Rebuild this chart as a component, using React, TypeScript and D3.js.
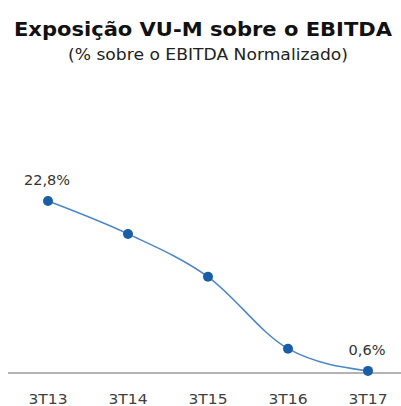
import React, { useEffect, useRef } from "react";
import * as d3 from "d3";

const categories = ["3T13", "3T14", "3T15", "3T16", "3T17"];
const values = [22.8, 18.5, 12.9, 3.5, 0.6];
const labels = ["22,8%", "", "", "", "0,6%"];

const W = 401;
const H = 406;

const App = () => {
  const ref = useRef<SVGSVGElement>(null);

  useEffect(() => {
    document.body.style.margin = "0";
    const svg = d3.select(ref.current);
    svg.selectAll("*").remove();

    const font = "'DejaVu Sans', Verdana, sans-serif";

    const x = d3.scalePoint().domain(categories).range([48, 368]);
    const y = d3.scaleLinear().domain([0, 25]).range([375.5, 184.2]);

    svg
      .append("text")
      .attr("x", 14)
      .attr("y", 36)
      .attr("font-family", font)
      .attr("font-weight", "bold")
      .attr("font-size", 19)
      .attr("textLength", 378)
      .attr("lengthAdjust", "spacingAndGlyphs")
      .attr("fill", "#111")
      .text("Exposição VU-M sobre o EBITDA");

    svg
      .append("text")
      .attr("x", 68)
      .attr("y", 60)
      .attr("font-family", font)
      .attr("font-size", 15)
      .attr("textLength", 280)
      .attr("lengthAdjust", "spacingAndGlyphs")
      .attr("fill", "#222")
      .text("(% sobre o EBITDA Normalizado)");

    // baseline axis
    svg
      .append("line")
      .attr("x1", 8)
      .attr("x2", W)
      .attr("y1", 373)
      .attr("y2", 373)
      .attr("stroke", "#9a9a9a")
      .attr("stroke-width", 1.5);

    svg
      .append("g")
      .selectAll("text")
      .data(categories)
      .join("text")
      .attr("x", (d) => x(d)! - 19.5)
      .attr("y", 404)
      .attr("font-family", font)
      .attr("font-size", 14.5)
      .attr("textLength", 39)
      .attr("lengthAdjust", "spacingAndGlyphs")
      .attr("fill", "#404040")
      .text((d) => d);

    const line = d3
      .line<number>()
      .x((_, i) => x(categories[i])!)
      .y((d) => y(d))
      .curve(d3.curveMonotoneX);

    svg
      .append("path")
      .datum(values)
      .attr("d", line)
      .attr("fill", "none")
      .attr("stroke", "#4f86c6")
      .attr("stroke-width", 1.5);

    svg
      .append("g")
      .selectAll("circle")
      .data(values)
      .join("circle")
      .attr("cx", (_, i) => x(categories[i])!)
      .attr("cy", (d) => y(d))
      .attr("r", 5)
      .attr("fill", "#1a5ea8");

    svg
      .append("g")
      .selectAll("text")
      .data(values)
      .join("text")
      .attr("x", (_, i) => x(categories[i])! - 1)
      .attr("y", (d) => y(d) - 16)
      .attr("text-anchor", "middle")
      .attr("font-family", font)
      .attr("font-size", 14.5)
      .attr("fill", "#333")
      .text((_, i) => labels[i]);
  }, []);

  return <svg ref={ref} width={W} height={H} style={{ display: "block" }}></svg>;
};

export default App;
